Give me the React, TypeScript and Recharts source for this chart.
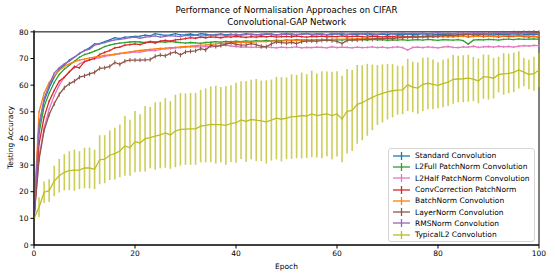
import { LineChart, Line, XAxis, YAxis, ErrorBar, ReferenceArea } from 'recharts'

const EPOCHS = Array.from({ length: 101 }, (_, i) => i)

const STANDARD = [
  10, 45, 54, 59, 63, 66, 67.5, 69.4, 70.5, 71.8,
  73, 74, 75.5, 75.6, 76.3, 77, 77.8, 77.5, 78, 78.1,
  78.3, 78.4, 78.8, 78.5, 79.3, 79, 78.7, 78.9, 79.3, 78.9,
  79, 79.2, 78.8, 79.3, 79.1, 78.8, 79, 79.2, 78.9, 79.1,
  78.7, 79, 79.3, 78.9, 79, 78.8, 79.1, 79.2, 78.9, 79,
  79.4, 78.8, 79, 79.1, 79.3, 78.9, 79, 79.2, 78.8, 79.1,
  79.3, 79, 78.9, 79.2, 79, 79.3, 78.8, 79.1, 79, 79.2,
  78.9, 79.3, 79.1, 78.9, 79.2, 79, 79.1, 79.3, 78.9, 79,
  79.2, 79.1, 78.8, 79.3, 79, 79.1, 79.2, 78.9, 79, 79.3,
  79.1, 78.8, 79.2, 79, 79.1, 79.3, 78.9, 79, 79.2, 79.1,
  79,
]

const L2_FULL = [
  10, 42, 52, 57, 61, 64, 66, 67.5, 69, 70.5,
  71.5, 72, 72.8, 73.5, 74.5, 75, 75.5, 75.8, 76, 76.2,
  76.3, 76.2, 76, 76.4, 76.2, 76.3, 76.1, 76.4, 76.2, 76,
  75.8, 76, 75.9, 75.7, 76, 76.1, 76.3, 76.1, 76.4, 76.2,
  76.5, 76.3, 76.6, 76.4, 76.7, 76.5, 76.8, 76.6, 76.9, 76.7,
  77, 76.8, 77.1, 76.9, 77, 76.8, 77.1, 76.9, 77.2, 77,
  77.1, 76.9, 77.2, 77, 77.3, 77.1, 76.9, 77.2, 77, 77.1,
  76.8, 77, 76.9, 77.1, 76.8, 77, 77.1, 76.9, 77.2, 77,
  76.8, 77.1, 77, 76.9, 77.1, 76.7, 75.4, 76.9, 77.1, 77,
  77.2, 77.1, 76.9, 77.2, 77.3, 77.1, 77.4, 77.2, 77.3, 77.4,
  77.2,
]

const L2_HALF = [
  10, 33, 44, 51, 56, 60, 63, 65, 66.5, 68,
  68.8, 69.5, 70, 70.3, 70.8, 71.2, 71.5, 71.8, 72, 72.2,
  72.5, 72.4, 72.8, 73.1, 73, 73.4, 73.6, 73.7, 74, 74.1,
  74.3, 74.4, 74.5, 74.3, 74.6, 74.4, 74.6, 74.8, 75, 74.7,
  74.5, 74.3, 74.4, 74.2, 74.3, 74.1, 74.4, 74.2, 74, 74.3,
  74.1, 74.2, 74.4, 74, 74.2, 74.1, 74.3, 74.2, 74, 74.4,
  74.1, 74.3, 74.2, 74, 74.3, 74.1, 74.2, 74.4, 74.1, 74.3,
  74, 74.2, 74.4, 74.1, 73.2, 74.2, 74.3, 74.1, 74.4, 74.2,
  74, 74.3, 74.5, 74.2, 74.1, 74.4, 74.3, 74.6, 74.2, 74.4,
  74.5, 74.3, 74.6, 74.4, 74.5, 74.3, 74.6, 74.8, 74.7, 74.9,
  74.8,
]

const CONV_CORRECTION = [
  10, 38, 48, 54, 58, 61.5, 63, 65, 67, 66.5,
  68.8, 69.5, 70, 71.5, 72.3, 73, 74, 74.3, 75, 75.2,
  75.5, 75.2, 75.9, 76.2, 75.8, 76.5, 76.8, 76.5, 77, 77.2,
  77.5, 77.8, 77.6, 78, 77.8, 78.1, 78, 77.8, 78.2, 78,
  78.3, 78.1, 77.9, 78.2, 78, 78.3, 78.1, 78.4, 78, 78.2,
  78.3, 78.1, 78.4, 78.2, 78, 78.3, 78.2, 78.4, 78.1, 78.3,
  78.2, 78.5, 78.1, 78.3, 78.4, 78.2, 78, 78.4, 78.3, 78.1,
  78.4, 78.2, 78.5, 78.3, 78.1, 78.4, 78.3, 78.2, 78.5, 78.1,
  78.4, 78.3, 78.2, 78.5, 78.3, 78.4, 78.1, 78.3, 78.5, 78.2,
  78.4, 78.3, 78.1, 78.4, 78.2, 78.3, 78.5, 78.2, 78.1, 78.3,
  77.9,
]

const BATCH_NORM = [
  12, 50, 57, 61, 63.5, 65.5, 67, 68, 68.8, 69.4,
  69.8, 70.2, 70.5, 70.8, 71.2, 71.4, 71.6, 71.9, 72.2, 72.5,
  72.8, 73, 73.2, 73.4, 73.6, 73.8, 73.9, 74.1, 74.2, 74.4,
  74.5, 74.6, 74.8, 75, 75.1, 75.3, 75.5, 75.7, 75.8, 76,
  76, 76.1, 76.2, 76.1, 76.3, 76.4, 76.3, 76.5, 76.6, 76.5,
  76.7, 76.8, 76.7, 76.9, 77, 76.9, 77, 77.1, 77, 77.2,
  77.3, 77.2, 77.4, 77.3, 77.5, 77.4, 77.6, 77.5, 77.7, 77.6,
  77.8, 77.7, 77.9, 77.8, 78, 77.9, 78, 78.1, 78, 78.2,
  78.1, 78.3, 78.2, 78.1, 78.3, 78.4, 78.2, 78.4, 78.3, 78.5,
  78.4, 78.3, 78.5, 78.4, 78.6, 78.5, 78.4, 78.6, 78.5, 78.4,
  78.2,
]

const LAYER_NORM = [
  10, 32, 43, 49, 53, 56.5, 59, 60.5, 61.5, 63,
  63.5, 64.2, 64.8, 66.3, 66.5, 67, 68.5, 67.8, 69, 69.4,
  69.4, 69.4, 69.5, 69.6, 70.8, 71.3, 71, 71.9, 72.5, 71.3,
  72.5, 72.7, 72.9, 73.7, 73.2, 75, 74.5, 74.9, 75.4, 75.9,
  75.3, 75, 75.1, 75.6, 75.2, 74.6, 74.4, 75.5, 76.2, 76,
  75.8, 76.1, 75.6, 76.3, 76.5, 76.6, 76.4, 76.8, 76.9, 76.7,
  76.4, 75.6, 76.8, 77, 76.9, 77.1, 77.3, 77.2, 77.5, 77.4,
  77.6, 77.4, 77.8, 77.9, 78, 78.1, 78, 78.3, 78.2, 78.5,
  78.4, 78.6, 78.8, 78.7, 78.9, 79.1, 79, 79.2, 79.3, 79.1,
  79.4, 79.5, 79.3, 79.6, 79.5, 79.7, 79.6, 79.8, 79.7, 79.9,
  79.8,
]

const RMS_NORM = [
  11, 45, 55, 60, 64.5, 66.5, 68, 69, 70.5, 72,
  73, 73.5, 75, 75.5, 76, 76.5, 77, 77.2, 77.5, 77.8,
  78, 77.6, 78, 78.2, 78.5, 78, 78.3, 78.6, 78.4, 78.2,
  78.7, 78.5, 78.8, 78.4, 78.6, 78.9, 78.7, 79, 78.6, 78.9,
  79.1, 78.8, 79, 79.2, 78.9, 79.1, 79.3, 79, 78.8, 79.2,
  79.1, 79.3, 79, 79.2, 79.4, 79.1, 79.3, 79.2, 79, 79.4,
  79.2, 79.5, 79.1, 79.3, 79.4, 79.2, 79.5, 79.3, 79.1, 79.4,
  79.6, 79.2, 79.4, 79.5, 79.3, 79.5, 79.4, 79.6, 79.3, 79.5,
  79.7, 79.4, 79.5, 79.3, 79.6, 79.5, 79.4, 79.7, 79.5, 79.6,
  79.3, 79.5, 79.7, 79.4, 79.6, 79.5, 79.3, 79.6, 79.5, 79.4,
  79.2,
]

const TYPICAL_L2 = [
  10, 14.2, 19.8, 20.4, 24, 26, 27.3, 27.9, 28.1, 28.1,
  28.9, 28.9, 28.4, 32, 32.2, 33.7, 34.3, 35.3, 37.2, 36.5,
  38.8, 38.3, 39.9, 40.3, 40.9, 41.3, 42.1, 41.3, 42.8, 43.4,
  43.5, 43.6, 43.6, 44.6, 44.9, 45.3, 45.2, 45.2, 44.9, 45.6,
  45.9, 46.9, 46.4, 47.1, 46.9, 46.6, 46.2, 46.9, 47.6, 47.2,
  47.6, 48.2, 48.2, 48.6, 48.4, 49.2, 48.6, 48.9, 49.2, 48.6,
  49.2, 47.3, 50.2, 50.5, 52.8, 53.4, 54.5, 55.4, 56.3, 56.9,
  57.5, 57.9, 58.1, 58.2, 60.1, 59.3, 58.9, 60.3, 60.7, 60.3,
  59.9, 60.6, 61.1, 62.2, 62.3, 62.4, 62.6, 62.3, 61.6, 63.2,
  63, 62.6, 64, 64.2, 64.4, 64.8, 65.7, 64.9, 64, 64.3,
  65.7,
]

const TYPICAL_L2_ERR = [
  0.5, 3.7, 4.0, 4.3, 5.7, 6.3, 6.8, 7.3, 7.7, 7.1,
  7.6, 7.7, 7.4, 9.2, 9.0, 9.3, 9.7, 9.9, 11.2, 10.5,
  11.5, 10.8, 12.3, 11.5, 12.7, 12.5, 13.1, 12.7, 13.6, 13.6,
  13.4, 13.5, 13.5, 13.6, 13.9, 14.2, 14.6, 14.1, 14.8, 14.4,
  15, 14.6, 15.2, 14.9, 15.4, 15.1, 15.6, 15.2, 15.5, 15.8,
  15.3, 15.9, 15.6, 16.1, 15.7, 16.2, 15.8, 16.3, 15.9, 16.4,
  16, 16.2, 15.9, 15.2, 14.8, 14.1, 13.5, 12.3, 11.2, 10.9,
  10.4, 10, 9.2, 9.1, 9.8, 9.5, 9.6, 10, 9.7, 9.3,
  8.7, 8.9, 8.9, 9.2, 8.7, 8.8, 8.8, 8.3, 8.4, 8.3,
  8.4, 7.6, 6.7, 7.8, 7.4, 7.4, 7, 5.3, 5.5, 6.4,
  6.5,
]

const SERIES = [
  { key: 'standard', name: 'Standard Convolution', color: '#1f77b4', values: STANDARD, err: 0.3 },
  { key: 'l2full', name: 'L2Full PatchNorm Convolution', color: '#2ca02c', values: L2_FULL, err: 0.3 },
  { key: 'l2half', name: 'L2Half PatchNorm Convolution', color: '#e377c2', values: L2_HALF, err: 0.4 },
  { key: 'convcorr', name: 'ConvCorrection PatchNorm', color: '#d62728', values: CONV_CORRECTION, err: 0.4 },
  { key: 'batchnorm', name: 'BatchNorm Convolution', color: '#ff7f0e', values: BATCH_NORM, err: 0.3 },
  { key: 'layernorm', name: 'LayerNorm Convolution', color: '#8c564b', values: LAYER_NORM, err: 0.8 },
  { key: 'rmsnorm', name: 'RMSNorm Convolution', color: '#9467bd', values: RMS_NORM, err: 0.3 },
]

const X_TICKS = [0, 20, 40, 60, 80, 100]
const Y_TICKS = [0, 10, 20, 30, 40, 50, 60, 70, 80]

const data = EPOCHS.map((epoch, i) => {
  const row: Record<string, number> = { epoch, typical: TYPICAL_L2[i], typicalErr: TYPICAL_L2_ERR[i] }
  SERIES.forEach((s) => {
    row[s.key] = s.values[i]
    row[s.key + 'Err'] = s.err
  })
  return row
})

const FONT = 'DejaVu Sans, sans-serif'
const tickStyle = { fill: '#000', fontSize: 7.5, fontFamily: FONT }

const LEGEND_ITEMS = [
  ...SERIES.map((s) => ({ name: s.name, color: s.color })),
  { name: 'TypicalL2 Convolution', color: '#bcbd22' },
]

function LegendBox() {
  return (
    <div
      style={{
        position: 'absolute',
        left: 388,
        top: 148,
        width: 145,
        border: '1px solid #d5d5d5',
        borderRadius: 3,
        background: 'rgba(255,255,255,0.85)',
        padding: '1px 0',
        fontFamily: FONT,
        fontSize: 7.5,
        color: '#000',
      }}
    >
      {LEGEND_ITEMS.map((it) => (
        <div key={it.name} style={{ display: 'flex', alignItems: 'center', height: 11.3, whiteSpace: 'nowrap' }}>
          <svg width={26} height={10} style={{ flex: 'none' }}>
            <line x1={4} x2={21} y1={5} y2={5} stroke={it.color} strokeWidth={1.3} />
            <line x1={12.5} x2={12.5} y1={1} y2={9} stroke={it.color} strokeWidth={1.3} />
          </svg>
          <span>{it.name}</span>
        </div>
      ))}
    </div>
  )
}

export default function App() {
  return (
    <div style={{ position: 'fixed', left: 0, top: 0, width: 555, height: 278, background: '#fff' }}>
      <div
        style={{
          position: 'absolute',
          left: 34,
          width: 505,
          top: 4,
          textAlign: 'center',
          fontFamily: FONT,
          fontSize: 8.6,
          lineHeight: '12px',
          color: '#000',
        }}
      >
        <div>Performance of Normalisation Approaches on CIFAR</div>
        <div>Convolutional-GAP Network</div>
      </div>
      <LineChart width={555} height={278} data={data} margin={{ top: 30, right: 16, bottom: 13, left: 0 }}>
        <XAxis
          dataKey="epoch"
          type="number"
          domain={[0, 100]}
          ticks={X_TICKS}
          tick={tickStyle}
          tickSize={3.5}
          stroke="#000"
          height={20}
          label={{ value: 'Epoch', position: 'insideBottom', offset: -4, style: { ...tickStyle } }}
        />
        <YAxis
          type="number"
          domain={[0, 80]}
          ticks={Y_TICKS}
          tick={tickStyle}
          tickSize={3.5}
          stroke="#000"
          width={34}
          label={{ value: 'Testing Accuracy', angle: -90, position: 'insideLeft', offset: 10, style: { ...tickStyle, textAnchor: 'middle' } }}
        />
        <ReferenceArea x1={0} x2={100} y1={0} y2={80} fill="none" stroke="#000" strokeWidth={1} ifOverflow="visible" />
        {SERIES.map((s) => (
          <Line
            key={s.key}
            dataKey={s.key}
            name={s.name}
            stroke={s.color}
            strokeWidth={1.3}
            dot={false}
            isAnimationActive={false}
          >
            <ErrorBar dataKey={s.key + 'Err'} width={0} stroke={s.color} strokeWidth={1} direction="y" />
          </Line>
        ))}
        <Line dataKey="typical" name="TypicalL2 Convolution" stroke="#bcbd22" strokeWidth={1.3} dot={false} isAnimationActive={false}>
          <ErrorBar dataKey="typicalErr" width={0} stroke="#bcbd22" strokeOpacity={0.75} strokeWidth={1.6} direction="y" />
        </Line>
      </LineChart>
      <LegendBox />
    </div>
  )
}
